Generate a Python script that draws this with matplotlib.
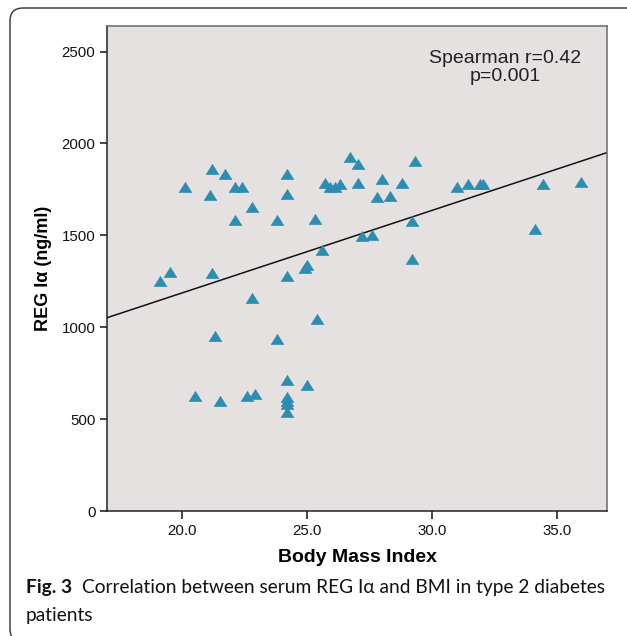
import matplotlib
matplotlib.use("Agg")
import matplotlib.pyplot as plt
from matplotlib.patches import FancyBboxPatch
from matplotlib.path import Path
from matplotlib.transforms import IdentityTransform
import numpy as np

# values
bmi = [19.1, 19.5, 20.1, 20.5, 21.1, 21.2, 21.2, 21.3, 21.5, 21.7,
       22.1, 22.4, 22.1, 22.8, 22.8, 22.6, 22.9, 23.8, 23.8, 24.2,
       24.2, 24.2, 24.2, 24.2, 24.2, 24.2, 24.2, 24.9, 25.0, 25.0,
       25.3, 25.4, 25.6, 25.7, 25.9, 26.1, 26.3, 26.7, 27.05, 27.05,
       27.2, 27.6, 27.8, 28.0, 28.3, 28.8, 29.2, 29.2, 29.3, 31.0,
       31.45, 31.9, 32.05, 34.1, 34.45, 35.95]
reg = [1252, 1302, 1765, 626, 1720, 1862, 1294, 951, 600, 1836,
       1765, 1765, 1584, 1652, 1161, 628, 637, 1584, 934, 1836,
       1727, 1279, 713, 622, 600, 581, 537, 1322, 1337, 686,
       1587, 1045, 1423, 1784, 1763, 1763, 1778, 1924, 1889, 1784,
       1497, 1502, 1711, 1807, 1716, 1784, 1580, 1372, 1907, 1765,
       1780, 1780, 1780, 1533, 1780, 1792]

# fit line as drawn in the figure
fit_intercept = 289
fit_slope = 44.9

xticks = [20.0, 25.0, 30.0, 35.0]
yticks = [0, 500, 1000, 1500, 2000, 2500]

bg = '#e6e1e1'
teal = '#2a8db1'

fig = plt.figure(figsize=(6.27, 6.36), dpi=100)
ax = fig.add_axes([0.1711, 0.1965, 0.797, 0.762])
ax.set_facecolor(bg)

tri = Path([(-1, -0.8), (1, -0.8), (0, 0.8), (-1, -0.8)],
           [Path.MOVETO, Path.LINETO, Path.LINETO, Path.CLOSEPOLY])
ax.plot(bmi, reg, linestyle='none', marker=tri, markersize=9.2,
        color=teal, markeredgecolor=teal, markeredgewidth=0.4, zorder=3)

xl = np.array([17, 37])
ax.plot(xl, fit_intercept + fit_slope * xl, color='#111111', lw=1.1, zorder=2)

ax.set_xlim(17, 37)
ax.set_ylim(0, 2637)
ax.set_xticks(xticks)
ax.set_xticklabels(['%.1f' % t for t in xticks])
ax.set_yticks(yticks)
ax.set_yticklabels([str(t) for t in yticks])

for s in ['left', 'bottom']:
    ax.spines[s].set_color('#222222')
    ax.spines[s].set_linewidth(1.1)
for s in ['top', 'right']:
    ax.spines[s].set_color('#6a6a6a')
    ax.spines[s].set_linewidth(1.1)

ax.tick_params(axis='y', direction='out', length=5, width=1.1, pad=3.5,
               labelsize=10.8, colors='#111111')
ax.tick_params(axis='x', direction='out', length=5.5, width=1.1, pad=3.5,
               labelsize=10.8, colors='#111111')
for lab in ax.get_xticklabels() + ax.get_yticklabels():
    lab.set_family('Liberation Sans')

ax.set_xlabel('Body Mass Index', family='Liberation Sans', fontsize=14,
              fontweight='bold', va='center')
ax.xaxis.set_label_coords(0.5, -0.095)
ax.set_ylabel('REG I\u03b1 (ng/ml)', family='Liberation Sans', fontsize=13,
              fontweight='bold', va='center')
ax.yaxis.set_label_coords(-0.1267, 0.5016)

ax.text(0.796, 0.9154, 'Spearman r=0.42\np=0.001', transform=ax.transAxes,
        ha='center', va='center', multialignment='center', linespacing=1.1,
        family='Liberation Sans', fontsize=14, color='#222222')

# journal caption
cap1 = fig.text(26 / 627, 1 - 593 / 636, 'Fig. 3', family='Lato',
                fontweight='bold', fontsize=13.8, va='baseline', color='#111111')
fig.canvas.draw()
bb = cap1.get_window_extent(fig.canvas.get_renderer())
fig.text((bb.x1 + 10) / 627, 1 - 593 / 636,
         'Correlation between serum REG I\u03b1 and BMI in type 2 diabetes',
         family='Lato', fontsize=13.8, va='baseline', color='#111111')
fig.text(26 / 627, 1 - 621 / 636, 'patients', family='Lato', fontsize=13.8,
         va='baseline', color='#111111')

# rounded frame around the figure (runs off the right and bottom)
frame = FancyBboxPatch((10, -6), 640, 636 - 8 + 6, boxstyle='round,pad=0,rounding_size=13',
                       transform=IdentityTransform(), fill=False,
                       edgecolor='#333333', lw=1.0)
fig.patches.append(frame)

fig.savefig('out.png', dpi=100)
